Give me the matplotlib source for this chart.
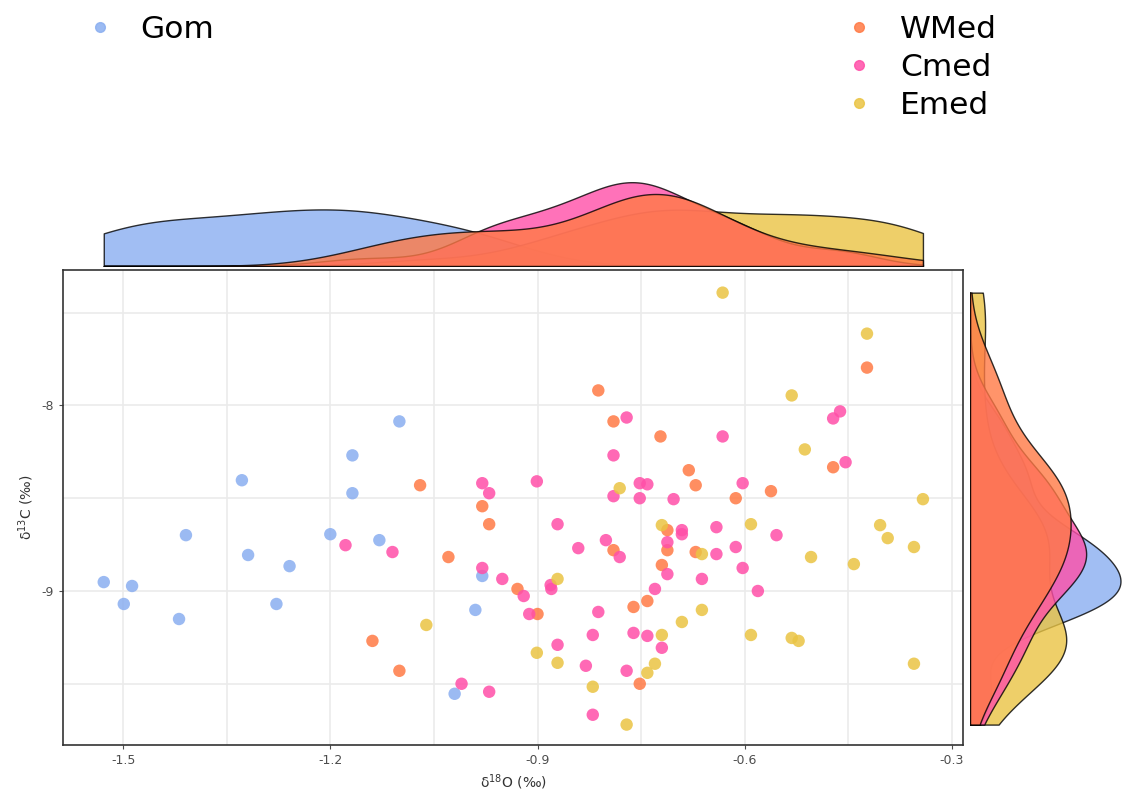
import numpy as np
import matplotlib.pyplot as plt

groups = ['Gom', 'WMed', 'Cmed', 'Emed']
colors = {'Gom': '#8AAEF0', 'WMed': '#FF7A45', 'Cmed': '#FF4FA8', 'Emed': '#EAC443'}
# drawing order of the marginal densities
dens_order = ['Gom', 'Emed', 'Cmed', 'WMed']

gom_x = [-1.528, -1.487, -1.499, -1.419, -1.409, -1.328, -1.319, -1.259, -1.278,
         -1.200, -1.168, -1.168, -1.129, -1.100, -0.980, -0.990, -1.020]
gom_y = [-8.952, -8.973, -9.070, -9.151, -8.699, -8.403, -8.806, -8.866, -9.070,
         -8.694, -8.269, -8.473, -8.726, -8.086, -8.919, -9.102, -9.554]

wmed_x = [-1.070, -0.980, -0.970, -1.029, -0.929, -0.900, -1.139, -1.100, -0.812,
          -0.790, -0.722, -0.681, -0.671, -0.613, -0.562, -0.472, -0.423, -0.712,
          -0.790, -0.712, -0.671, -0.720, -0.741, -0.761, -0.752]
wmed_y = [-8.430, -8.543, -8.640, -8.817, -8.989, -9.124, -9.269, -9.430, -7.919,
          -8.086, -8.167, -8.349, -8.430, -8.500, -8.462, -8.333, -7.796, -8.672,
          -8.780, -8.780, -8.790, -8.860, -9.054, -9.086, -9.500]

cmed_x = [-0.980, -0.970, -0.901, -0.871, -1.178, -1.110, -0.980, -0.951, -0.920,
          -0.912, -0.881, -0.880, -0.871, -1.010, -0.970, -0.790, -0.771, -0.752,
          -0.741, -0.790, -0.752, -0.703, -0.632, -0.603, -0.472, -0.462, -0.454,
          -0.841, -0.801, -0.781, -0.712, -0.691, -0.691, -0.641, -0.613, -0.641,
          -0.712, -0.662, -0.603, -0.581, -0.554, -0.730, -0.812, -0.820, -0.761,
          -0.741, -0.720, -0.830, -0.771, -0.820]
cmed_y = [-8.419, -8.473, -8.409, -8.640, -8.753, -8.790, -8.876, -8.935, -9.027,
          -9.124, -8.968, -8.989, -9.290, -9.500, -9.543, -8.269, -8.065, -8.419,
          -8.425, -8.489, -8.500, -8.505, -8.167, -8.419, -8.070, -8.032, -8.306,
          -8.769, -8.726, -8.817, -8.737, -8.672, -8.694, -8.656, -8.763, -8.801,
          -8.909, -8.935, -8.876, -9.000, -8.699, -8.989, -9.113, -9.237, -9.226,
          -9.242, -9.306, -9.403, -9.430, -9.667]

emed_x = [-0.632, -0.423, -0.532, -0.513, -0.781, -0.342, -0.404, -0.393, -0.355,
          -0.504, -0.442, -0.532, -0.522, -0.355, -0.720, -0.591, -0.662, -0.871,
          -0.662, -0.691, -0.720, -0.591, -0.901, -0.871, -0.730, -0.741, -0.820,
          -0.771, -1.061]
emed_y = [-7.392, -7.613, -7.946, -8.237, -8.446, -8.505, -8.645, -8.715, -8.763,
          -8.817, -8.855, -9.253, -9.269, -9.392, -8.645, -8.640, -8.801, -8.935,
          -9.102, -9.167, -9.237, -9.237, -9.333, -9.387, -9.392, -9.441, -9.516,
          -9.720, -9.183]

data = {'Gom': (gom_x, gom_y), 'WMed': (wmed_x, wmed_y),
        'Cmed': (cmed_x, cmed_y), 'Emed': (emed_x, emed_y)}


def kde(v, grid):
    v = np.asarray(v)
    iqr = np.subtract(*np.percentile(v, [75, 25]))
    bw = 0.9 * min(v.std(ddof=1), iqr / 1.34) * len(v) ** -0.2
    z = (grid[:, None] - v[None, :]) / bw
    return np.exp(-0.5 * z ** 2).sum(axis=1) / (len(v) * bw * np.sqrt(2 * np.pi))


W, H = 1128, 805
fig = plt.figure(figsize=(W / 100, H / 100), dpi=100)
ax = fig.add_axes([63 / W, 1 - 745 / H, 900 / W, 475 / H])
axt = fig.add_axes([63 / W, 1 - 266 / H, 900 / W, 88 / H], sharex=ax)
axr = fig.add_axes([970 / W, 1 - 745 / H, 158 / W, 475 / H], sharey=ax)

for g in groups:
    x, y = data[g]
    ax.scatter(x, y, s=80, color=colors[g], alpha=0.85, edgecolors='none', zorder=3)

ax.set_xlim(-1.587, -0.284)
ax.set_ylim(-9.83, -7.27)
ax.set_xticks([-1.5, -1.2, -0.9, -0.6, -0.3])
ax.set_xticklabels(['-1.5', '-1.2', '-0.9', '-0.6', '-0.3'])
ax.set_yticks([-8, -9])
ax.set_yticklabels(['-8', '-9'])
ax.set_xticks([-1.35, -1.05, -0.75, -0.45], minor=True)
ax.set_yticks([-7.5, -8.5, -9.5], minor=True)
ax.grid(True, which='both', color='#EBEBEB', linewidth=1.2, zorder=0)
ax.set_axisbelow(True)
ax.tick_params(which='major', colors='#4D4D4D', labelsize=9, length=3)
ax.tick_params(which='minor', length=0)
for s in ax.spines.values():
    s.set_color('#333333')
    s.set_linewidth(1.2)
ax.set_xlabel('δ$^{18}$O (‰)', fontsize=10, color='#333333')
ax.set_ylabel('δ$^{13}$C (‰)', fontsize=10, color='#333333')

allx = np.concatenate([data[g][0] for g in groups])
ally = np.concatenate([data[g][1] for g in groups])
gx = np.linspace(allx.min(), allx.max(), 512)
gy = np.linspace(ally.min(), ally.max(), 512)
for g in dens_order:
    x, y = data[g]
    dx = kde(x, gx)
    dy = kde(y, gy)
    axt.fill_between(gx, 0, dx, color=colors[g], alpha=0.8, edgecolor='black', linewidth=1)
    axr.fill_betweenx(gy, 0, dy, color=colors[g], alpha=0.8, edgecolor='black', linewidth=1)

axt.set_ylim(0, None)
axr.set_xlim(0, None)
for a in (axt, axr):
    a.axis('off')

h = {g: plt.Line2D([], [], marker='o', linestyle='none', markersize=7,
                   color=colors[g], alpha=0.85) for g in groups}
fig.legend([h['Gom']], ['Gom'], loc='upper left', bbox_to_anchor=(72 / W, 1 - 2 / H),
           frameon=False, fontsize=22.5, handlelength=1, handletextpad=0.8,
           borderaxespad=0)
fig.legend([h['WMed'], h['Cmed'], h['Emed']], ['WMed', 'Cmed', 'Emed'], loc='upper left',
           bbox_to_anchor=(831 / W, 1 - 2 / H), frameon=False, fontsize=22.5,
           handlelength=1, handletextpad=0.8, labelspacing=0.3, borderaxespad=0)

fig.savefig('out.png', dpi=100)
